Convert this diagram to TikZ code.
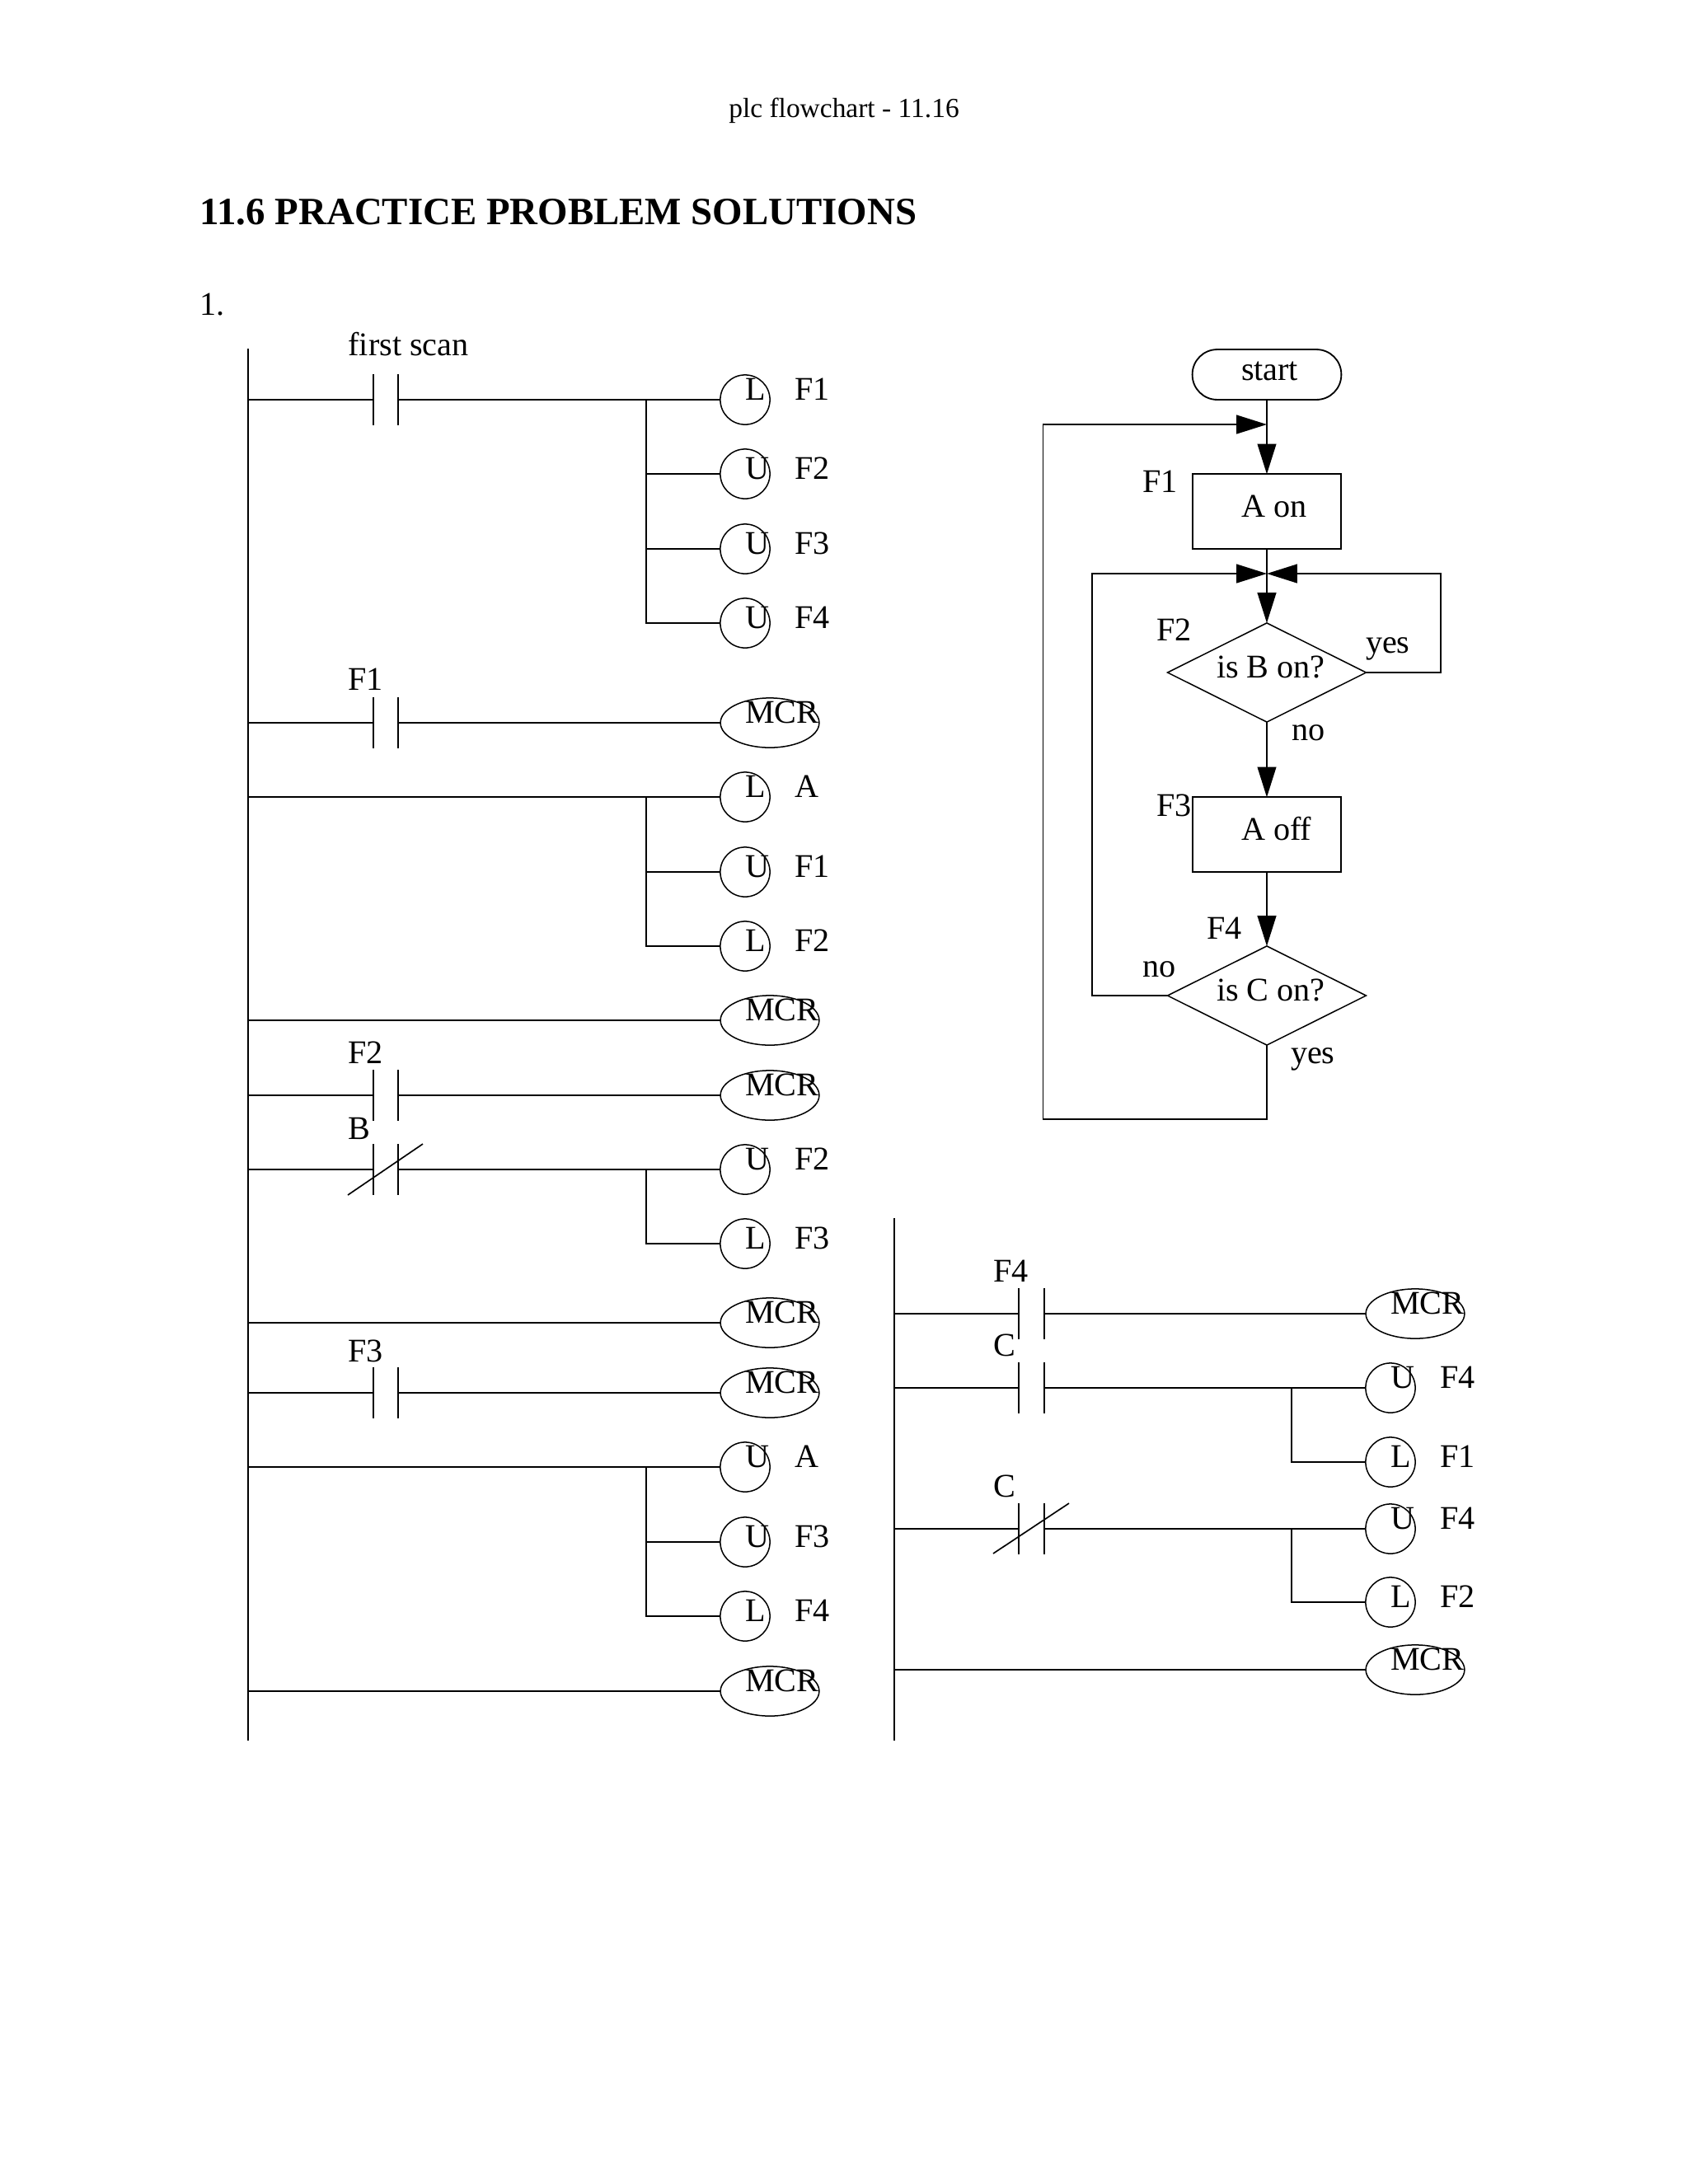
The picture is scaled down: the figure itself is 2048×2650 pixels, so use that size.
\documentclass[tikz,border=0pt]{standalone}
\usepackage{fontspec}
\setmainfont{Liberation Serif}
\usetikzlibrary{shapes.geometric,arrows.meta}
\tikzset{
  wire/.style={line width=0.55pt,black},
  flow/.style={wire,-{Triangle[length=11pt,width=6.8pt]}},
  txt/.style={anchor=base west,inner sep=0pt,outer sep=0pt,font=\fontsize{12}{14}\selectfont},
  coilc/.style={draw,line width=0.45pt,circle,minimum size=18pt,inner sep=0pt,outer sep=0pt},
  coile/.style={draw,line width=0.45pt,ellipse,minimum width=35.8pt,minimum height=18pt,inner sep=0pt,outer sep=0pt},
  bar/.style={line width=0.5pt,black},
  fbox/.style={draw,line width=0.55pt,rectangle,minimum width=54pt,minimum height=27pt,inner sep=0pt,outer sep=0pt},
  fdia/.style={draw,line width=0.45pt,diamond,aspect=2,minimum width=72pt,minimum height=35.9pt,inner sep=0pt,outer sep=0pt},
  fstart/.style={draw,line width=0.55pt,rectangle,rounded corners=9pt,minimum width=54pt,minimum height=18.2pt,inner sep=0pt,outer sep=0pt},
}
% circle coil: name, x centre, rung y, baseline y, letter, output label, x of label
\newcommand\pcoil[7]{%
  \node[coilc] (#1) at (#2,#3) {};
  \node[txt] (#1t) at (#2,#4) {#5};
  \node[txt] (#1l) at (#7,#4) {#6};}
% MCR coil: name, x of left end, rung y
\newcommand\pmcr[3]{%
  \node[coile] (#1) at ({#2+60},#3) {};
  \node[txt] (#1t) at ({#2+30},#3) {MCR};}
% contact: name, rail x, bar x1, bar x2, rung y, label, label x, label baseline
\newcommand\pcontact[8]{%
  \coordinate (#1r) at (#2,#5);
  \coordinate (#1a) at (#3,#5);
  \coordinate (#1b) at (#4,#5);
  \coordinate (#1at) at (#3,{#5-31});
  \coordinate (#1ab) at (#3,{#5+31});
  \coordinate (#1bt) at (#4,{#5-31});
  \coordinate (#1bb) at (#4,{#5+31});
  \draw[bar] (#1at) -- (#1ab);
  \draw[bar] (#1bt) -- (#1bb);
  \draw[wire] (#1r) -- (#1a);
  \node[txt] (#1t) at (#7,#8) {#6};}
\begin{document}
\begin{tikzpicture}[x=0.29883pt,y=-0.29883pt]
\useasboundingbox (0,0) rectangle (2048,2650);
% page text
\node[anchor=base,inner sep=0pt,font=\fontsize{10}{12}\selectfont] (hdr) at (1024,142) {plc flowchart - 11.16};
\node[anchor=base west,inner sep=0pt,font=\fontsize{14}{16}\selectfont\bfseries] (ttl) at (242,272) {11.6 PRACTICE PROBLEM SOLUTIONS};
\node[txt] (num) at (242,382) {1.};
% rails
\coordinate (railAt) at (301,423);
\coordinate (railAb) at (301,2112);
\coordinate (railBt) at (1085,1478);
\coordinate (railBb) at (1085,2112);
\draw[wire] (railAt) -- (railAb);
\draw[wire] (railBt) -- (railBb);
% --- left ladder ---
\pcontact{k1}{301}{453}{483}{485}{first scan}{422.5}{431}
\pcoil{c1}{904}{485}{485}{L}{F1}{964}
\pcoil{c2}{904}{575}{581}{U}{F2}{964}
\pcoil{c3}{904}{666}{672}{U}{F3}{964}
\pcoil{c4}{904}{756}{762}{U}{F4}{964}
\coordinate (j1) at (784,485);
\draw[wire] (k1b) -- (c1.west);
\draw[wire] (j1) |- (c2.west);
\draw[wire] (j1) |- (c3.west);
\draw[wire] (j1) |- (c4.west);

\pcontact{k2}{301}{453}{483}{877}{F1}{422.5}{837}
\pmcr{m1}{874}{877}
\draw[wire] (k2b) -- (m1.west);

\coordinate (r3) at (301,967);
\coordinate (j3) at (784,967);
\pcoil{c5}{904}{967}{967}{L}{A}{964}
\pcoil{c6}{904}{1058}{1064}{U}{F1}{964}
\pcoil{c7}{904}{1148}{1154}{L}{F2}{964}
\draw[wire] (r3) -- (c5.west);
\draw[wire] (j3) |- (c6.west);
\draw[wire] (j3) |- (c7.west);

\coordinate (r4) at (301,1238);
\pmcr{m2}{874}{1238}
\draw[wire] (r4) -- (m2.west);

\pcontact{k3}{301}{453}{483}{1329}{F2}{422.5}{1290}
\pmcr{m3}{874}{1329}
\draw[wire] (k3b) -- (m3.west);

\pcontact{k4}{301}{453}{483}{1419}{B}{422.5}{1382}
\coordinate (s4a) at (422,1450);
\coordinate (s4b) at (513,1388);
\draw[bar] (s4a) -- (s4b);
\pcoil{c8}{904}{1419}{1419}{U}{F2}{964}
\pcoil{c9}{904}{1509}{1515}{L}{F3}{964}
\coordinate (j4) at (784,1419);
\draw[wire] (k4b) -- (c8.west);
\draw[wire] (j4) |- (c9.west);

\coordinate (r5) at (301,1605);
\pmcr{m4}{874}{1605}
\draw[wire] (r5) -- (m4.west);

\pcontact{k5}{301}{453}{483}{1690}{F3}{422.5}{1652}
\pmcr{m5}{874}{1690}
\draw[wire] (k5b) -- (m5.west);

\coordinate (r6) at (301,1780);
\coordinate (j6) at (784,1780);
\pcoil{c10}{904}{1780}{1780}{U}{A}{964}
\pcoil{c11}{904}{1871}{1877}{U}{F3}{964}
\pcoil{c12}{904}{1961}{1967}{L}{F4}{964}
\draw[wire] (r6) -- (c10.west);
\draw[wire] (j6) |- (c11.west);
\draw[wire] (j6) |- (c12.west);

\coordinate (r7) at (301,2052);
\pmcr{m6}{874}{2052}
\draw[wire] (r7) -- (m6.west);

% --- right ladder ---
\pcontact{k6}{1085}{1236}{1267}{1594}{F4}{1205}{1555}
\pmcr{m7}{1657}{1594}
\draw[wire] (k6b) -- (m7.west);

\pcontact{k7}{1085}{1236}{1267}{1684}{C}{1205}{1645}
\pcoil{c13}{1687}{1684}{1684}{U}{F4}{1747}
\pcoil{c14}{1687}{1774}{1780}{L}{F1}{1747}
\coordinate (j7) at (1567,1684);
\draw[wire] (k7b) -- (c13.west);
\draw[wire] (j7) |- (c14.west);

\pcontact{k8}{1085}{1236}{1267}{1855}{C}{1205}{1816}
\coordinate (s8a) at (1205,1885);
\coordinate (s8b) at (1297,1824);
\draw[bar] (s8a) -- (s8b);
\pcoil{c15}{1687}{1855}{1855}{U}{F4}{1747}
\pcoil{c16}{1687}{1944}{1950}{L}{F2}{1747}
\coordinate (j8) at (1567,1855);
\draw[wire] (k8b) -- (c15.west);
\draw[wire] (j8) |- (c16.west);

\coordinate (r9) at (1085,2026);
\pmcr{m8}{1657}{2026}
\draw[wire] (r9) -- (m8.west);

% --- flowchart ---
\node[fstart] (start) at (1537,454.5) {};
\node[fbox] (aon) at (1537,620.5) {};
\node[fdia] (d1) at (1537,816) {};
\node[fbox] (aoff) at (1537,1012.5) {};
\node[fdia] (d2) at (1537,1208) {};
\coordinate (m1j) at (1537,515);
\coordinate (m2j) at (1537,696);
\coordinate (lo) at (1265.5,1358);
\coordinate (li) at (1325,1208);
\coordinate (ro) at (1748,816);
\coordinate (bo) at (1537,1358);
\draw[flow] (start.south) -- (aon.north);
\draw[flow] (aon.south) -- (d1.north);
\draw[flow] (d1.south) -- (aoff.north);
\draw[flow] (aoff.south) -- (d2.north);
\draw[flow] (d2.south) -- (bo) -- (lo) |- (m1j);
\draw[flow] (d2.west) -- (li) |- (m2j);
\draw[flow] (d1.east) -- (ro) |- (m2j);
\node[txt] (t1) at (1506,461) {start};
\node[txt] (t2) at (1386,597) {F1};
\node[txt] (t3) at (1506,627) {A on};
\node[txt] (t4) at (1403,777) {F2};
\node[txt] (t5) at (1476,822) {is B on?};
\node[txt] (t6) at (1657,792) {yes};
\node[txt] (t7) at (1567,898) {no};
\node[txt] (t8) at (1403,990) {F3};
\node[txt] (t9) at (1506,1019) {A off};
\node[txt] (t10) at (1464,1139) {F4};
\node[txt] (t11) at (1386,1185) {no};
\node[txt] (t12) at (1476,1214) {is C on?};
\node[txt] (t13) at (1566,1290) {yes};
\end{tikzpicture}
\end{document}
